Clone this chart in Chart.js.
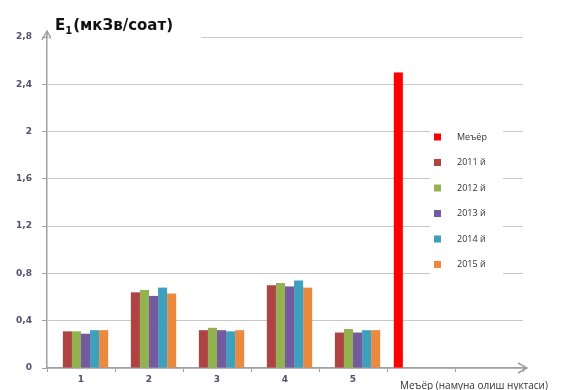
<!DOCTYPE html>
<html>
<head>
<meta charset="utf-8">
<script src="https://cdn.jsdelivr.net/npm/chart.js@4.4.1/dist/chart.umd.min.js"></script>
<style>
  html, body { margin: 0; padding: 0; background: #fff; }
  #wrap { width: 562px; height: 390px; position: relative; }
</style>
</head>
<body>
<div id="wrap"><canvas id="chartDoza"></canvas></div>
<script>
// Нукталар (x ўқи)
const categories = ['1', '2', '3', '4', '5', '', ''];
const axisTitleX = 'Меъёр (намуна олиш нуктаси)';
const axisTitleY = ['E', '1', '(мкЗв/соат)'];

// Қийматлар
const normLabel = 'Меъёр';
const normValues = [null, null, null, null, null, 2.5, null];
const seriesLabels = ['2011 й', '2012 й', '2013 й', '2014 й', '2015 й'];
const values2011 = [0.31, 0.64, 0.32, 0.70, 0.30];
const values2012 = [0.31, 0.66, 0.34, 0.72, 0.33];
const values2013 = [0.29, 0.61, 0.32, 0.69, 0.30];
const values2014 = [0.32, 0.68, 0.31, 0.74, 0.32];
const values2015 = [0.32, 0.63, 0.32, 0.68, 0.32];
const yTicks = [0, 0.4, 0.8, 1.2, 1.6, 2, 2.4, 2.8];

const colores = ['#ff0000', '#ad4442', '#93b250', '#765a9f', '#3ea0bd', '#e98a3f'];

const datasets = [{
    label: normLabel,
    data: normValues,
    backgroundColor: colores[0]
}];
[values2011, values2012, values2013, values2014, values2015].forEach(function (v, i) {
    datasets.push({
        label: seriesLabels[i],
        data: v,
        backgroundColor: colores[i + 1]
    });
});

// Ўқлар учун стрелкалар, сарлавҳа ва легенда
const decorPlugin = {
    id: 'decor',
    afterDraw(chart) {
        const ctx = chart.ctx;
        const a = chart.chartArea;
        const xs = chart.scales.x;
        ctx.save();

        // стрелкалар
        ctx.strokeStyle = '#a0a0a0';
        ctx.lineWidth = 1.5;
        ctx.beginPath();
        ctx.moveTo(a.left, a.top);
        ctx.lineTo(a.left, a.top - 6);
        ctx.moveTo(a.left - 5, a.top + 3);
        ctx.lineTo(a.left, a.top - 6);
        ctx.lineTo(a.left + 5, a.top + 3);
        ctx.moveTo(a.right, a.bottom);
        ctx.lineTo(a.right + 4, a.bottom);
        ctx.moveTo(a.right - 5, a.bottom - 5);
        ctx.lineTo(a.right + 4, a.bottom);
        ctx.lineTo(a.right - 5, a.bottom + 5);
        ctx.stroke();

        // y сарлавҳаси
        ctx.fillStyle = '#fff';
        ctx.fillRect(a.left + 4, 8, 150, 34);
        ctx.fillStyle = '#111';
        ctx.textBaseline = 'alphabetic';
        ctx.textAlign = 'left';
        let x = 55;
        ctx.font = 'bold 15px "DejaVu Sans"';
        ctx.fillText(axisTitleY[0], x, 30);
        x += ctx.measureText(axisTitleY[0]).width;
        ctx.font = 'bold 10px "DejaVu Sans"';
        ctx.fillText(axisTitleY[1], x, 34);
        x += ctx.measureText(axisTitleY[1]).width + 1;
        ctx.font = 'bold 15px "DejaVu Sans"';
        ctx.fillText(axisTitleY[2], x, 30);

        // x сарлавҳаси
        ctx.font = '10px "Open Sans"';
        ctx.fillStyle = '#333';
        ctx.textBaseline = 'middle';
        ctx.fillText(axisTitleX, xs.getPixelForValue(5) - 21, 386);

        // легенда
        const lx = 430, ly = 124;
        ctx.fillStyle = '#fff';
        ctx.fillRect(lx, ly, 73, 156);
        ctx.font = '9px "Open Sans"';
        chart.data.datasets.forEach(function (ds, i) {
            const cy = ly + 13 + i * 25.5;
            ctx.fillStyle = ds.backgroundColor;
            ctx.fillRect(lx + 4, cy - 3.5, 7, 7);
            ctx.fillStyle = '#333';
            ctx.fillText(ds.label, lx + 27, cy);
        });
        ctx.restore();
    }
};

new Chart(document.getElementById('chartDoza').getContext('2d'), {
    type: 'bar',
    data: {
        labels: categories,
        datasets: datasets
    },
    options: {
        responsive: true,
        maintainAspectRatio: false,
        animation: false,
        layout: {
            padding: { top: 37, right: 39, left: 0, bottom: 0 }
        },
        datasets: {
            bar: {
                categoryPercentage: 0.8,
                barPercentage: 1.0
            }
        },
        scales: {
            x: {
                afterFit: function (s) { s.height = 22; },
                grid: {
                    offset: true,
                    drawOnChartArea: false,
                    drawTicks: true,
                    tickLength: 4,
                    color: '#a0a0a0'
                },
                border: { color: '#a0a0a0', width: 1.5 },
                ticks: {
                    color: '#50506e',
                    font: { family: 'DejaVu Sans', size: 9, weight: 'bold' },
                    padding: 2,
                    maxRotation: 0
                }
            },
            y: {
                min: 0,
                max: 2.8,
                afterFit: function (s) { s.width = 47; },
                afterBuildTicks: function (s) {
                    s.ticks = yTicks.map(function (v) { return { value: v }; });
                },
                grid: {
                    color: '#c8c8c8',
                    tickLength: 5,
                    tickColor: '#a0a0a0'
                },
                border: { color: '#a0a0a0', width: 1.5 },
                ticks: {
                    color: '#50506e',
                    font: { family: 'DejaVu Sans', size: 9, weight: 'bold' },
                    padding: 10,
                    callback: function (value) {
                        return String(Number(value.toFixed(1))).replace('.', ',');
                    }
                }
            }
        },
        plugins: {
            legend: { display: false },
            tooltip: { enabled: false }
        }
    },
    plugins: [decorPlugin]
});
</script>
</body>
</html>
